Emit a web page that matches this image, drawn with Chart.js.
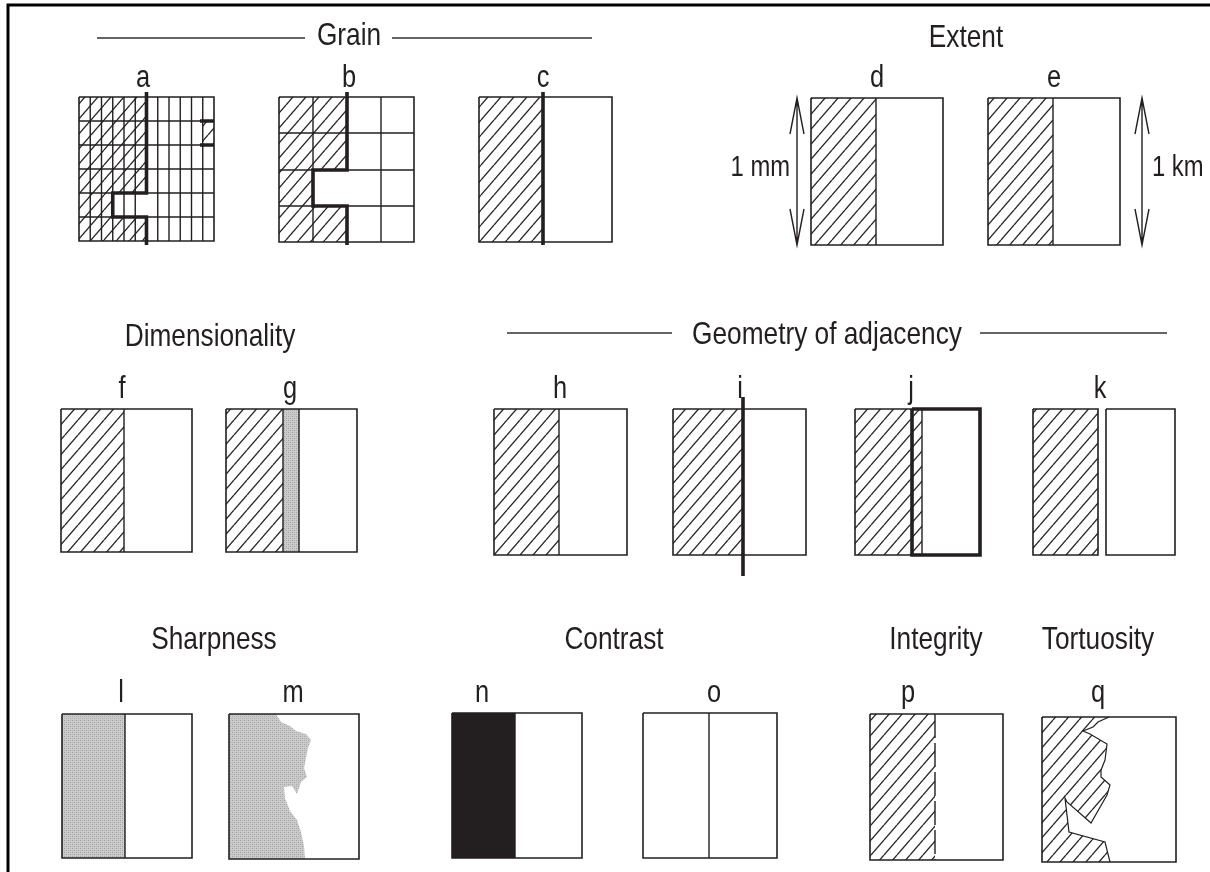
<!DOCTYPE html>
<html><head><meta charset="utf-8">
<script src="https://cdn.jsdelivr.net/npm/chart.js@4.4.1/dist/chart.umd.min.js"></script>
<style>html,body{margin:0;padding:0;background:#fff;}canvas{display:block}</style>
</head><body>
<canvas id="c" width="1210" height="872"></canvas>
<script>
// ---------- data (figure units: x 0..1210, y 0..872 downward) ----------
const titles = [['Grain',349,45],['Extent',966,47],['Dimensionality',210,346],['Geometry of adjacency',827,344],
  ['Sharpness',214,649],['Contrast',614,649],['Integrity',936,649],['Tortuosity',1098,649]];
const letters = [['a',143,87],['b',349,87],['c',543,87],['d',877,87],['e',1054,87],
  ['f',122,398],['g',290,398],['h',560,398],['i',740,398],['j',911,398],['k',1100,398],
  ['l',121,702],['m',293,702],['n',482,702],['o',714,702],['p',908,702],['q',1098,702]];
const scaleTexts = [['1 mm',790,176,'right'],['1 km',1152,176,'left']];
const headerRules = [[97,305,38],[392,592,38],[507,672,333],[980,1167,333]];
const frame = [[8,872],[8,5],[1210,5]];
// outline boxes [x0,y0,x1,y1]
const boxes = [[79,97,214,241],[279,97,414,242],[479,97,612,242],[811,98,943,245],[988,98,1120,245],
  [61,409,192,552],[226,409,357,552],[494,409,627,555],[673,409,806,555],[855,409,980,555],[1033,409,1098,555],[1106,409,1175,555],
  [62,714,192,858],[229,714,359,859],[452,713,582,858],[643,713,777,858],[870,714,1003,860],[1042,717,1176,862]];
// thin vertical dividers [x, y0, y1]
const dividers = [[876,98,245],[1053,98,245],[124,409,552],[283,409,552],[299,409,552],[559,409,555],[922,409,555],
  [125,714,858],[515,713,858],[709,713,858]];
const dashedDividers = [[935,714,860]];
// grid lines of panels a and b
const gridAx = [90.25,101.5,112.75,124,135.25,157.75,169,180.25,191.5,202.75];
const gridAy = [121,145,169,193,217];
const gridBx = [313,381];
const gridBy = [133,170,206];
// heavy boundary lines (polylines)
const heavyLines = [
  [[146.5,92],[146.5,193],[112.75,193],[112.75,217],[146.5,217],[146.5,245]],
  [[200,121],[214,121]],[[200,145],[214,145]],
  [[347,92],[347,170],[313,170],[313,206],[347,206],[347,245]],
  [[543,92],[543,245]],
  [[743,397],[743,576]],
  [[912,409],[980,409],[980,555],[912,555],[912,409]]
];
// arrows [x, yTop, yBottom]
const arrows = [[797,98,245],[1142,98,245]];
// hatched polygons
const hatched = [
  [[79,97],[146.5,97],[146.5,193],[112.75,193],[112.75,217],[146.5,217],[146.5,241],[79,241]],
  [[202.75,121],[214,121],[214,145],[202.75,145]],
  [[279,97],[347,97],[347,170],[313,170],[313,206],[347,206],[347,242],[279,242]],
  [[479,97],[543,97],[543,242],[479,242]],
  [[811,98],[876,98],[876,245],[811,245]],
  [[988,98],[1053,98],[1053,245],[988,245]],
  [[61,409],[124,409],[124,552],[61,552]],
  [[226,409],[283,409],[283,552],[226,552]],
  [[494,409],[559,409],[559,555],[494,555]],
  [[673,409],[743,409],[743,555],[673,555]],
  [[855,409],[922,409],[922,555],[855,555]],
  [[1033,409],[1098,409],[1098,555],[1033,555]],
  [[870,714],[935,714],[935,860],[870,860]]
];
const tortuous = [[1042,717],[1109,717],[1098,722],[1093,727],[1083,731],[1090,734],[1107,744],[1105,760],[1101,770],
  [1101,777],[1110,785],[1107,795],[1091,823],[1067,802],[1065,798],[1069,832],[1105,842],[1110,862],[1042,862]];
const stippled = [
  [[283,409],[299,409],[299,552],[283,552]],
  [[62,714],[125,714],[125,858],[62,858]],
  [[229,714],[276,714],[281,722],[290,726],[296,731],[306,734],[311,740],[308,748],[306,758],[304,768],[307,777],
   [301,782],[297,794],[292,786],[284,787],[285,798],[290,811],[297,820],[301,832],[304,846],[305,859],[229,859]]
];
const solidBlack = [[[452,713],[515,713],[515,858],[452,858]]];

// ---------- patterns ----------
function hatchPattern(){
  const c=document.createElement('canvas');c.width=13;c.height=15;const g=c.getContext('2d');
  g.strokeStyle='#262626';g.lineWidth=1.3;
  for(const k of [-1,0,1]){g.beginPath();g.moveTo(k*13,15);g.lineTo(k*13+13,0);g.stroke();}
  return g.createPattern(c,'repeat');
}
function stipplePattern(){
  const c=document.createElement('canvas');c.width=4;c.height=4;const g=c.getContext('2d');
  g.fillStyle='#cbcbcb';g.fillRect(0,0,4,4);
  g.fillStyle='#a2a2a2';g.fillRect(0,0,1,1);g.fillRect(2,2,1,1);
  g.fillStyle='#b6b6b6';g.fillRect(2,0,1,1);g.fillRect(0,2,1,1);
  return g.createPattern(c,'repeat');
}
const INK='#231f20';
const datasets=[];
const pt=p=>({x:p[0],y:p[1]});
function fillDs(pts,bg){
  const d=pts.map(pt);d.push(pt(pts[0]));
  datasets.push({data:d,showLine:true,fill:'shape',backgroundColor:bg,borderColor:'rgba(0,0,0,0)',borderWidth:0,pointRadius:0,order:10});
}
function lineDs(segs,w,color,order,dash){
  const d=[];segs.forEach((s,i)=>{if(i)d.push({x:null,y:null});s.forEach(p=>d.push(pt(p)));});
  datasets.push({data:d,showLine:true,fill:false,borderColor:color,borderWidth:w,pointRadius:0,spanGaps:false,order:order,borderDash:dash||[],borderCapStyle:'butt',borderJoinStyle:'miter'});
}
const hp=hatchPattern(), sp=stipplePattern();
hatched.forEach(p=>fillDs(p,hp));
fillDs(tortuous,hp);
stippled.forEach(p=>fillDs(p,sp));
solidBlack.forEach(p=>fillDs(p,INK));
// grids
const gridSegs=[];
gridAx.forEach(x=>gridSegs.push([[x,97],[x,241]]));
gridAy.forEach(y=>gridSegs.push([[79,y],[214,y]]));
gridBx.forEach(x=>gridSegs.push([[x,97],[x,242]]));
gridBy.forEach(y=>gridSegs.push([[279,y],[414,y]]));
lineDs(gridSegs,1.4,INK,5);
// boxes
lineDs(boxes.map(b=>[[b[0],b[1]],[b[2],b[1]],[b[2],b[3]],[b[0],b[3]],[b[0],b[1]]]),1.6,INK,4);
lineDs(dividers.map(d=>[[d[0],d[1]],[d[0],d[2]]]),1.4,INK,4);
lineDs(dashedDividers.map(d=>[[d[0],d[1]],[d[0],d[2]]]),1.4,INK,4,[24,5]);
lineDs([tortuous.slice(1,18)],1.2,INK,4);
lineDs(headerRules.map(r=>[[r[0],r[2]],[r[1],r[2]]]),1.3,'#333',4);
lineDs([frame],3,'#000',3);
// arrows
const arrowSegs=[];
arrows.forEach(a=>{arrowSegs.push([[a[0],a[1]],[a[0],a[2]]]);
  arrowSegs.push([[a[0]-7,a[1]+36],[a[0],a[1]],[a[0]+7,a[1]+36]]);
  arrowSegs.push([[a[0]-7,a[2]-36],[a[0],a[2]],[a[0]+7,a[2]-36]]);});
lineDs(arrowSegs,1.4,INK,3);
lineDs(heavyLines,3.6,INK,1);

const FONT='"Liberation Sans","Arimo",Arial,sans-serif';
const SX=0.82;
function drawText(ctx,txt,px,py,size,align){
  ctx.save();ctx.font=size+'px '+FONT;ctx.textAlign=align;ctx.translate(px,py);ctx.scale(SX,1);
  ctx.fillText(txt,0,0);ctx.restore();
}
const textPlugin={id:'texts',afterDatasetsDraw(chart){
  const {ctx,scales:{x,y}}=chart;ctx.save();ctx.fillStyle=INK;ctx.textBaseline='alphabetic';
  titles.forEach(t=>drawText(ctx,t[0],x.getPixelForValue(t[1]),y.getPixelForValue(t[2]),32,'center'));
  letters.forEach(t=>drawText(ctx,t[0],x.getPixelForValue(t[1]),y.getPixelForValue(t[2]),31,'center'));
  scaleTexts.forEach(t=>drawText(ctx,t[0],x.getPixelForValue(t[1]),y.getPixelForValue(t[2]),29,t[3]));
  ctx.restore();}};

new Chart(document.getElementById('c'),{type:'scatter',data:{datasets},
  options:{responsive:false,animation:false,events:[],layout:{padding:0},
    scales:{x:{type:'linear',min:0,max:1210,display:false},y:{type:'linear',min:0,max:872,reverse:true,display:false}},
    plugins:{legend:{display:false},tooltip:{enabled:false}},
    elements:{line:{tension:0},point:{radius:0}}},
  plugins:[textPlugin]});
</script>
</body></html>
